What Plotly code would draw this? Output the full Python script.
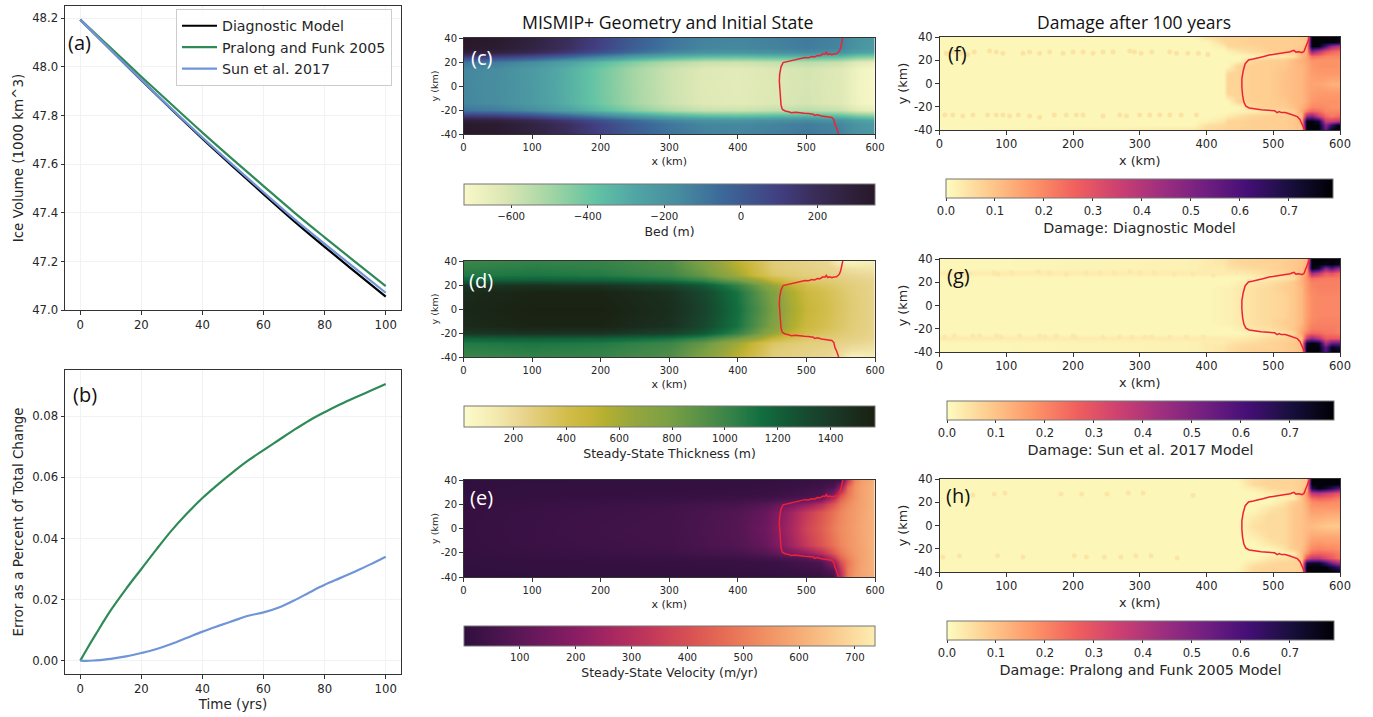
import numpy as np
import plotly.graph_objects as go
from plotly.colors import get_colorscale

W, H = 1373, 717

# ---------- line panels ----------
legend_names = ["Diagnostic Model", "Pralong and Funk 2005", "Sun et al. 2017"]
t_vol = [0, 10, 20, 30, 40, 50, 60, 70, 80, 90, 100]
vol_diag = [48.195, 48.07, 47.946, 47.824, 47.705, 47.59, 47.477, 47.366, 47.26, 47.157, 47.055]
vol_sun = [48.195, 48.0703, 47.947, 47.8265, 47.7095, 47.596, 47.4845, 47.375, 47.272, 47.171, 47.071]
vol_pf = [48.195, 48.078, 47.960, 47.8445, 47.730, 47.619, 47.510, 47.402, 47.299, 47.198, 47.098]

t_err = [0, 2, 5, 10, 15, 20, 25, 30, 35, 40, 45, 50, 55, 60, 65, 70, 75, 80, 85, 90, 95, 100]
err_pf = [0, .0035, .0085, .0165, .0235, .0300, .0365, .0427, .0482, .0532, .0576, .0617, .0655, .0689,
          .0722, .0755, .0786, .0813, .0838, .0861, .0883, .0905]
err_sun = [0, -.0001, .0001, .0006, .0014, .0025, .0038, .0055, .0075, .0095, .0113, .013, .0147, .0158,
           .0174, .0197, .0223, .0248, .027, .0292, .0315, .034]

# ---------- bed ----------
bed_x = [0, 50, 100, 150, 200, 250, 300, 350, 400, 450, 500, 550, 575, 600]
bed_y = [-40, -32, -28, -24, -20, -14, 0, 14, 20, 24, 28, 32, 40]
bed_rows = [
    [350, 330, 273, 189, 90, -7, -85, -132, -143, -125, -104, -134, -193, -220],
    [340, 320, 263, 179, 80, -17, -95, -142, -153, -135, -114, -144, -203, -230],
    [290, 270, 213, 129, 30, -67, -145, -192, -203, -185, -164, -194, -253, -280],
    [100, 80, 23, -61, -160, -257, -335, -382, -393, -375, -354, -384, -443, -470],
    [-90, -110, -167, -251, -350, -447, -525, -572, -583, -565, -544, -574, -633, -660],
    [-146, -166, -223, -307, -406, -503, -581, -628, -639, -621, -600, -630, -689, -716],
    [-150, -170, -227, -311, -410, -507, -585, -632, -643, -625, -604, -634, -693, -720],
    [-146, -166, -223, -307, -406, -503, -581, -628, -639, -621, -600, -630, -689, -716],
    [-90, -110, -167, -251, -350, -447, -525, -572, -583, -565, -544, -574, -633, -660],
    [100, 80, 23, -61, -160, -257, -335, -382, -393, -375, -354, -384, -443, -470],
    [290, 270, 213, 129, 30, -67, -145, -192, -203, -185, -164, -194, -253, -280],
    [340, 320, 263, 179, 80, -17, -95, -142, -153, -135, -114, -144, -203, -230],
    [350, 330, 273, 189, 90, -7, -85, -132, -143, -125, -104, -134, -193, -220],
]

# ---------- thickness ----------
thk_x = [0, 100, 200, 300, 350, 400, 430, 450, 470, 500, 530, 550, 565, 600]
thk_y = [-40, -34, -28, -24, -20, -14, 0, 14, 20, 24, 28, 34, 40]
thk_rows = [
    [1000, 1030, 1020, 940, 760, 520, 380, 290, 270, 250, 220, 180, 70, 110],
    [1040, 1060, 1040, 960, 800, 560, 400, 300, 280, 260, 240, 210, 170, 160],
    [1080, 1100, 1080, 1000, 860, 620, 430, 340, 310, 280, 270, 250, 230, 200],
    [1200, 1220, 1200, 1120, 1020, 820, 640, 480, 400, 320, 300, 280, 260, 230],
    [1420, 1450, 1440, 1350, 1230, 1020, 820, 660, 540, 390, 340, 300, 280, 240],
    [1500, 1540, 1540, 1460, 1320, 1110, 900, 760, 620, 450, 380, 330, 290, 240],
    [1520, 1560, 1560, 1480, 1350, 1130, 940, 800, 650, 480, 400, 340, 300, 240],
    [1500, 1540, 1540, 1460, 1320, 1110, 900, 760, 620, 450, 380, 330, 290, 240],
    [1420, 1450, 1440, 1350, 1230, 1020, 820, 660, 540, 390, 340, 300, 280, 240],
    [1200, 1220, 1200, 1120, 1020, 820, 640, 480, 400, 320, 300, 280, 260, 230],
    [1080, 1100, 1080, 1000, 860, 620, 430, 340, 310, 280, 270, 250, 230, 200],
    [1040, 1060, 1040, 960, 800, 560, 400, 300, 280, 260, 240, 200, 170, 160],
    [1000, 1030, 1020, 940, 760, 520, 380, 290, 270, 250, 220, 90, 60, 110],
]

# ---------- velocity ----------
vel_x = [0, 100, 200, 300, 400, 440, 460, 480, 500, 520, 540, 550, 560, 570, 580, 600]
vel_y = [-40, -34, -28, -24, -20, -14, 0, 14, 20, 24, 28, 34, 40]
vel_rows = [
    [3, 5, 6, 7, 8, 10, 12, 15, 18, 22, 40, 300, 500, 560, 580, 610],
    [4, 7, 8, 10, 12, 15, 20, 25, 30, 40, 90, 330, 500, 550, 585, 620],
    [6, 10, 12, 15, 20, 25, 30, 40, 50, 70, 200, 400, 490, 545, 580, 620],
    [8, 13, 17, 22, 32, 45, 55, 70, 90, 150, 320, 450, 510, 550, 580, 620],
    [10, 20, 28, 35, 55, 85, 120, 170, 220, 300, 420, 490, 530, 560, 580, 620],
    [13, 26, 34, 42, 78, 125, 180, 260, 340, 410, 480, 520, 545, 565, 585, 620],
    [15, 28, 38, 45, 85, 140, 200, 280, 370, 430, 500, 530, 550, 570, 590, 620],
    [13, 26, 34, 42, 78, 125, 180, 260, 340, 410, 480, 520, 545, 565, 585, 620],
    [10, 20, 28, 35, 55, 85, 120, 170, 220, 300, 420, 490, 530, 560, 580, 620],
    [8, 13, 17, 22, 32, 45, 55, 70, 90, 150, 320, 450, 510, 550, 580, 620],
    [6, 10, 12, 15, 20, 25, 30, 40, 50, 70, 200, 400, 490, 545, 580, 620],
    [4, 7, 8, 10, 12, 15, 20, 25, 30, 40, 70, 210, 460, 540, 580, 620],
    [3, 5, 6, 7, 8, 10, 12, 15, 18, 22, 30, 50, 340, 520, 570, 610],
]

# ---------- damage (hundredths) ----------
dmg_x = [0, 380, 400, 425, 432, 447, 470, 495, 515, 530, 542, 550, 558, 568, 578, 588, 596, 600]
dmg_y = [-40, -36, -32, -28, -24, -20, -15, -8, 0, 8, 15, 20, 24, 28, 32, 36, 40]
dmg_diag_rows = [
    [1, 4, 6, 7, 7, 8, 8, 8, 8, 9, 10, 78, 78, 78, 55, 78, 78, 78],
    [1, 1, 5, 6, 7, 7, 8, 8, 8, 9, 10, 78, 78, 78, 48, 65, 78, 78],
    [1, 1, 2, 4, 7, 7, 8, 8, 8, 9, 12, 78, 78, 72, 35, 35, 38, 38],
    [1, 1, 1, 2, 3, 5, 7, 8, 8, 9, 11, 45, 50, 35, 25, 22, 24, 24],
    [1, 1, 1, 1, 1, 2, 3, 4, 6, 8, 14, 22, 26, 24, 20, 20, 20, 20],
    [1, 1, 1, 1, 1, 1, 7, 8, 8, 10, 13, 16, 20, 20, 19, 18, 18, 18],
    [1, 1, 1, 1, 1, 7, 8, 8, 9, 11, 12, 14, 17, 18, 18, 18, 18, 18],
    [1, 1, 1, 1, 7, 7, 8, 8, 10, 11, 12, 14, 16, 17, 17, 17, 17, 17],
    [1, 1, 1, 1, 7, 7, 8, 8, 10, 11, 12, 14, 15, 15, 14, 13, 13, 13],
    [1, 1, 1, 1, 7, 7, 8, 8, 10, 11, 12, 14, 16, 17, 17, 17, 17, 17],
    [1, 1, 1, 1, 1, 7, 8, 8, 9, 11, 12, 14, 17, 18, 18, 18, 18, 18],
    [1, 1, 1, 1, 1, 1, 7, 8, 8, 11, 13, 15, 18, 18, 18, 18, 18, 18],
    [1, 1, 1, 1, 1, 1, 2, 3, 4, 5, 12, 15, 24, 23, 20, 20, 20, 20],
    [1, 1, 1, 1, 2, 4, 6, 8, 8, 9, 10, 14, 50, 40, 30, 26, 24, 24],
    [1, 1, 1, 3, 6, 7, 7, 8, 8, 8, 9, 12, 78, 78, 60, 45, 40, 40],
    [1, 1, 1, 6, 7, 7, 8, 8, 8, 8, 8, 10, 78, 78, 78, 78, 75, 75],
    [1, 1, 5, 7, 7, 7, 8, 8, 8, 8, 9, 10, 78, 78, 78, 78, 78, 78],
]
dmg_sun_rows = [
    [1, 2, 3, 4, 5, 6, 7, 8, 8, 9, 11, 78, 78, 78, 60, 78, 78, 78],
    [1, 2, 3, 4, 5, 6, 7, 7, 8, 9, 11, 78, 78, 78, 55, 76, 72, 72],
    [1, 2, 3, 3, 4, 5, 6, 7, 8, 9, 10, 75, 78, 75, 42, 55, 55, 55],
    [3, 3, 3, 3, 3, 3, 4, 6, 7, 8, 11, 36, 46, 38, 28, 28, 28, 28],
    [1, 1, 1, 1, 1, 1, 2, 3, 4, 7, 15, 22, 26, 25, 23, 23, 22, 22],
    [1, 1, 1, 1, 1, 2, 4, 5, 7, 9, 14, 18, 22, 22, 22, 22, 21, 21],
    [1, 1, 1, 2, 2, 3, 5, 6, 8, 9, 12, 17, 20, 21, 21, 21, 21, 21],
    [1, 1, 1, 2, 2, 3, 5, 6, 7, 9, 12, 16, 19, 20, 20, 20, 20, 20],
    [1, 1, 1, 2, 2, 3, 5, 6, 7, 9, 12, 16, 19, 20, 20, 20, 20, 20],
    [1, 1, 1, 2, 2, 3, 5, 6, 7, 9, 12, 16, 19, 20, 20, 20, 20, 20],
    [1, 1, 1, 2, 2, 3, 5, 6, 8, 9, 12, 17, 20, 21, 21, 21, 21, 21],
    [1, 1, 1, 1, 1, 2, 4, 5, 7, 9, 13, 17, 21, 21, 21, 21, 21, 21],
    [1, 1, 1, 1, 1, 1, 2, 3, 4, 6, 13, 18, 24, 23, 22, 22, 22, 22],
    [3, 3, 3, 3, 3, 3, 4, 6, 7, 8, 10, 17, 44, 38, 28, 30, 26, 26],
    [1, 2, 3, 3, 4, 5, 6, 7, 8, 9, 10, 15, 78, 72, 48, 58, 48, 48],
    [1, 2, 3, 4, 5, 6, 7, 7, 8, 9, 10, 13, 78, 78, 76, 78, 75, 75],
    [1, 2, 3, 4, 5, 7, 7, 8, 8, 9, 10, 12, 78, 78, 78, 78, 78, 78],
]
dmg_pf_rows = [
    [1, 1, 1, 1, 1, 2, 6, 7, 7, 7, 8, 78, 78, 78, 78, 78, 78, 78],
    [1, 1, 1, 1, 1, 1, 6, 7, 7, 7, 8, 78, 78, 78, 78, 72, 65, 65],
    [1, 1, 1, 1, 1, 1, 4, 6, 7, 7, 8, 72, 75, 75, 64, 52, 44, 44],
    [1, 1, 1, 1, 1, 1, 1, 4, 5, 6, 10, 30, 38, 38, 32, 28, 24, 24],
    [1, 1, 1, 1, 1, 1, 1, 1, 2, 3, 11, 18, 25, 26, 25, 24, 22, 22],
    [1, 1, 1, 1, 1, 1, 1, 1, 4, 8, 10, 15, 20, 21, 20, 20, 19, 19],
    [1, 1, 1, 1, 1, 1, 1, 4, 6, 9, 10, 13, 17, 18, 17, 17, 17, 17],
    [1, 1, 1, 1, 1, 1, 3, 6, 6, 9, 10, 12, 14, 14, 14, 14, 14, 14],
    [1, 1, 1, 1, 1, 1, 5, 6, 6, 9, 10, 11, 11, 10, 9, 9, 9, 9],
    [1, 1, 1, 1, 1, 1, 3, 6, 6, 9, 10, 12, 14, 14, 13, 13, 13, 13],
    [1, 1, 1, 1, 1, 1, 1, 4, 6, 9, 10, 13, 17, 17, 17, 17, 17, 17],
    [1, 1, 1, 1, 1, 1, 1, 1, 4, 8, 10, 14, 19, 20, 20, 19, 19, 19],
    [1, 1, 1, 1, 1, 1, 1, 1, 2, 3, 10, 16, 24, 26, 25, 24, 22, 22],
    [1, 1, 1, 1, 1, 1, 1, 3, 4, 5, 9, 18, 38, 40, 36, 33, 30, 30],
    [1, 1, 1, 1, 1, 1, 3, 6, 7, 7, 8, 12, 70, 78, 74, 68, 60, 60],
    [1, 1, 1, 1, 1, 1, 6, 7, 7, 7, 8, 10, 78, 78, 78, 78, 78, 78],
    [1, 1, 1, 1, 1, 2, 6, 7, 7, 7, 8, 10, 78, 78, 78, 78, 78, 78],
]

# speckle along the shear margins
spk_diag_x = [10, 20, 32, 42, 52, 75, 85, 95, 125, 135, 150, 165, 185, 200, 215, 230, 245, 260, 285, 292, 302, 318,
              345, 355, 372, 388, 402, 8, 20, 35, 50, 72, 85, 95, 105, 118, 135, 150, 172, 190, 205, 215, 245, 270,
              280, 300, 315, 330, 345, 362, 385]
spk_diag_y = [26, 27, 26, 25, 27, 28, 27, 26, 26, 27, 26, 27, 26, 27, 27, 26, 27, 27, 28, 27, 26, 27,
              27, 26, 26, 26, 25, -27, -27, -28, -27, -27, -27, -27, -28, -27, -28, -29, -27, -27, -27, -27, -28,
              -27, -28, -27, -27, -27, -27, -27, -27]
spk_sun_x = [45, 82, 88, 108, 148, 165, 190, 220, 240, 262, 285, 300, 322, 352, 380, 410, 8, 22, 50, 60, 85, 92,
             120, 150, 158, 175, 200, 203, 245, 270, 288, 308, 318, 345, 370, 395]
spk_sun_y = [27, 28, 27, 28, 29, 28, 27, 28, 28, 28, 29, 28, 28, 27, 27, 26, -27, -26, -26, -26, -26, -27,
             -26, -26, -27, -26, -26, -27, -27, -27, -27, -27, -27, -27, -27, -27]
spk_pf_x = [50, 82, 98, 182, 213, 251, 283, 305, 380, 5, 30, 87, 125, 202, 220, 247, 272, 294, 317, 356]
spk_pf_y = [26, 27, 28, 27, 27, 27, 28, 28, 26, -27, -26, -26, -27, -26, -27, -27, -27, -26, -26, -28]

# ---------- grounding lines ----------
gl_init_x = [553, 552, 550, 548, 546, 544, 540, 537, 534, 531, 529, 527, 524, 520, 516, 512, 508, 503, 498, 492, 486,
             480, 474, 470, 466, 463, 461, 460.5, 461, 461.5, 463, 465, 469, 474, 478, 484, 490, 497, 503, 510, 512,
             516, 522, 528, 533, 537, 540, 541.5, 544, 545, 547]
gl_init_y = [40, 36, 32, 29, 27.5, 26.8, 26.6, 26, 26.8, 26.2, 28, 26.5, 26.8, 25.3, 25.5, 24.2, 24.5, 23.6, 23.8, 23,
             22.8, 21.8, 21, 20.5, 19.5, 16, 10, 4, -3, -10, -16, -19.5, -20.8, -21.5, -22.2, -21.9, -22.5, -22.8, -23,
             -23.5, -24.6, -24, -25, -25.4, -26, -26.2, -28, -32, -35, -37.5, -40]
gl_end_x = [554.5, 552, 549, 546, 543, 538, 534, 531, 528, 524, 518, 510, 502, 494, 486, 478, 470, 463, 458, 455, 453,
            453, 454, 456, 459, 464, 472, 482, 492, 502, 506, 509, 512, 518, 526, 532, 536, 540, 543, 546, 547]
gl_end_y = [40, 36, 31, 27.5, 26.6, 27.3, 27, 28.5, 28, 27, 26.6, 26, 25.5, 24.5, 23.3, 22, 21, 20.3, 17, 11, 4,
            -3, -10, -16, -19.5, -21, -21.8, -22.5, -23, -23.5, -25, -24.2, -25, -25, -26.5, -27.5, -28.5, -31, -35,
            -39, -40]

x_ticks = [0, 100, 200, 300, 400, 500, 600]
y_ticks = [-40, -20, 0, 20, 40]
y_tick_text = ["-40", "-20", "0", "20", "40"]
dmg_ticks = [0.0, 0.1, 0.2, 0.3, 0.4, 0.5, 0.6, 0.7]

# ---------- styling ----------
FONT = "DejaVu Sans"
LAB = "Open Sans"
INK = "#262626"
FRAME = "#333333"
GREEN = "#2e8b57"
BLUE = "#6f95d8"
RED = "#ee2233"
BED_SCALE = [[0, "#f9f8c8"], [.1, "#dbe7b4"], [.2, "#a9d7a6"], [.27, "#80cba2"], [.32, "#62c3a4"], [.42, "#50a4a5"],
             [.52, "#478d9f"], [.62, "#3c6b9a"], [.72, "#3f4d8a"], [.76, "#424084"], [.85, "#3a2d5a"], [1, "#281828"]]
THK_SCALE = [[0, "#fdfbcb"], [.08, "#f3e9ae"], [.14, "#e9d590"], [.25, "#d2bd4b"], [.3, "#c8b63a"], [.34, "#b5b02f"],
             [.42, "#93a53f"], [.5, "#7aa044"], [.58, "#569047"], [.66, "#308048"], [.72, "#126f3f"], [.8, "#145433"],
             [.88, "#1a3d2a"], [1, "#1a2012"]]

fig = go.Figure()
layout = dict(
    width=W, height=H, margin=dict(l=0, r=0, t=0, b=0, autoexpand=False), autosize=False,
    paper_bgcolor="white", plot_bgcolor="white", font=dict(family=FONT, color=INK),
)


def dom_x(l, r):
    return [l / W, r / W]


def dom_y(t, b):
    return [1 - b / H, 1 - t / H]


def axis_pair(n, box, tick_size, x_title, y_title, title_size, xrange, yrange, xtick, ytick, yticktext=None,
              xstand=3, ystand=4, grid=False):
    l, r, t, b = box
    sfx = "" if n == 1 else str(n)
    common = dict(showline=True, mirror=True, linecolor=FRAME, linewidth=1, ticks="outside", ticklen=3.5,
                  tickcolor=FRAME, tickwidth=1, zeroline=False, showgrid=grid, gridcolor="#f2f2f2", gridwidth=1,
                  tickfont=dict(size=tick_size, family=FONT, color=INK))
    xa = dict(common, domain=dom_x(l, r), anchor="y" + sfx, range=xrange, tickmode="array", tickvals=xtick,
              ticktext=[str(v) for v in xtick])
    if x_title:
        xa["title"] = dict(text=x_title, font=dict(size=title_size, family=FONT, color=INK), standoff=xstand)
    ya = dict(common, domain=dom_y(t, b), anchor="x" + sfx, range=yrange, tickmode="array", tickvals=ytick,
              ticktext=yticktext)
    if y_title:
        ya["title"] = dict(text=y_title, font=dict(size=title_size, family=FONT, color=INK), standoff=ystand)
    layout["xaxis" + sfx] = xa
    layout["yaxis" + sfx] = ya
    return "x" + sfx, "y" + sfx


# panel (a)
xa, ya = axis_pair(1, (65, 401, 6, 310), 11.7, None, "Ice Volume (1000 km^3)", 13.5, [-5, 105], [47.0, 48.251],
                   [0, 20, 40, 60, 80, 100], [47.0, 47.2, 47.4, 47.6, 47.8, 48.0, 48.2],
                   ["47.0", "47.2", "47.4", "47.6", "47.8", "48.0", "48.2"], ystand=5, grid=True)
for name, vals, col in zip(legend_names, [vol_diag, vol_pf, vol_sun], ["black", GREEN, BLUE]):
    fig.add_trace(go.Scatter(x=t_vol, y=vals, mode="lines", name=name, legendgroup=name, xaxis=xa, yaxis=ya,
                             line=dict(color=col, width=2.2, shape="spline")))

# panel (b)
xa, ya = axis_pair(2, (65, 401, 370, 674), 11.7, "Time (yrs)", "Error as a Percent of Total Change", 13.5,
                   [-5, 105], [-0.00437, 0.0951], [0, 20, 40, 60, 80, 100], [0, .02, .04, .06, .08],
                   ["0.00", "0.02", "0.04", "0.06", "0.08"], ystand=5, xstand=4, grid=True)
fig.add_trace(go.Scatter(x=t_err, y=err_pf, mode="lines", showlegend=False, xaxis=xa, yaxis=ya,
                         line=dict(color=GREEN, width=2.2, shape="spline")))
fig.add_trace(go.Scatter(x=t_err, y=err_sun, mode="lines", showlegend=False, xaxis=xa, yaxis=ya,
                         line=dict(color=BLUE, width=2.2, shape="spline")))

MID_L, MID_R = 463.5, 875
DMG_L, DMG_R = 939.5, 1340


def field(n, box, xs, ys, rows, scale, zmin, zmax, cb_box, cb_ticks, cb_title, gl_x, gl_y, small, spk=None):
    tick = 10 if small else 11.5
    xa, ya = axis_pair(n, box, tick, "x (km)", "y (km)", 9.5 if small else 12.8, [0, 600], [-40, 40], x_ticks,
                       y_ticks, y_tick_text, xstand=5, ystand=0 if small else 3)
    if small:
        layout["xaxis" + str(n)]["title"]["font"]["size"] = 11
    cl, cr, ct, cb = cb_box
    fig.add_trace(go.Heatmap(
        x=xs, y=ys, z=rows, zmin=zmin, zmax=zmax, zsmooth="best", colorscale=scale, xaxis=xa, yaxis=ya,
        colorbar=dict(orientation="h", x=cl / W, xanchor="left", y=1 - ct / H,
                      yanchor="top", lenmode="fraction", len=(cr - cl) / W, thicknessmode="fraction",
                      thickness=(cb - ct) / H, xpad=0, ypad=0, outlinecolor="#777777",
                      outlinewidth=1, ticks="outside", ticklen=3, tickcolor=FRAME, tickmode="array", tickvals=cb_ticks,
                      ticktext=None if n < 6 else [f"{v:.1f}" for v in cb_ticks],
                      tickfont=dict(size=10.2 if small else 11.6, family=FONT, color=INK),
                      title=dict(text=cb_title, side="bottom", font=dict(size=12.5 if small else 14.3, family=FONT,
                                                                         color=INK)))))
    if spk is not None:
        fig.add_trace(go.Scatter(x=spk[0], y=spk[1], mode="markers", showlegend=False, xaxis=xa, yaxis=ya,
                                 marker=dict(color=spk[2], size=5, opacity=0.85, line=dict(width=0))))
    fig.add_trace(go.Scatter(x=gl_x, y=gl_y, mode="lines", showlegend=False, xaxis=xa, yaxis=ya,
                             line=dict(color=RED, width=1.5)))


field(3, (MID_L, MID_R, 38, 134), bed_x, bed_y, bed_rows, BED_SCALE, -723, 350,
      (464, 875, 184, 205), [-600, -400, -200, 0, 200], "Bed (m)", gl_init_x, gl_init_y, True)
field(4, (MID_L, MID_R, 261, 357), thk_x, thk_y, thk_rows, THK_SCALE, 13, 1568,
      (464, 875, 406, 427), [200, 400, 600, 800, 1000, 1200, 1400], "Steady-State Thickness (m)",
      gl_init_x, gl_init_y, True)
field(5, (MID_L, MID_R, 480, 577), vel_x, vel_y, vel_rows, get_colorscale("matter_r"), 0, 736,
      (464, 875, 626, 646), [100, 200, 300, 400, 500, 600, 700], "Steady-State Velocity (m/yr)",
      gl_init_x, gl_init_y, True)

magma = get_colorscale("magma_r")
field(6, (DMG_L, DMG_R, 37, 130), dmg_x, dmg_y, (np.array(dmg_diag_rows) / 100).tolist(), magma, 0, 0.79,
      (946, 1333, 179, 198), dmg_ticks, "Damage: Diagnostic Model", gl_end_x, gl_end_y, False,
      (spk_diag_x, spk_diag_y, "#fbdf9c"))
field(7, (DMG_L, DMG_R, 259, 352), dmg_x, dmg_y, (np.array(dmg_sun_rows) / 100).tolist(), magma, 0, 0.79,
      (947, 1334, 401, 420), dmg_ticks, "Damage: Sun et al. 2017 Model", gl_end_x, gl_end_y, False,
      (spk_sun_x, spk_sun_y, "#fbe7a8"))
field(8, (DMG_L, DMG_R, 479, 572), dmg_x, dmg_y, (np.array(dmg_pf_rows) / 100).tolist(), magma, 0, 0.79,
      (947, 1334, 621, 640), dmg_ticks, "Damage: Pralong and Funk 2005 Model", gl_end_x, gl_end_y, False,
      (spk_pf_x, spk_pf_y, "#fbe3a2"))


def note(text, px, py, size=20, color="#111111", family=LAB):
    return dict(text=text, x=px / W, y=1 - py / H, xref="paper", yref="paper", showarrow=False, xanchor="center",
                yanchor="middle", font=dict(size=size, family=family, color=color))


layout["annotations"] = [
    note("(a)", 79.5, 43), note("(b)", 85, 394),
    note("(c)", 481, 57, color="white"), note("(d)", 481, 280, color="white"), note("(e)", 481, 497, color="white"),
    note("(f)", 957, 53), note("(g)", 958, 275), note("(h)", 958, 495),
    note("MISMIP+ Geometry and Initial State", 668, 22, size=17.7),
    note("Damage after 100 years", 1134, 22, size=17.5),
]
layout["legend"] = dict(x=176 / W, y=1 - 9 / H, xanchor="left", yanchor="top", bgcolor="rgba(255,255,255,0.85)",
                        bordercolor="#cccccc", borderwidth=1, font=dict(size=14.2, family=FONT, color=INK),
                        tracegroupgap=0, traceorder="grouped", itemwidth=35)
fig.update_layout(**layout)
fig.write_html("out.html", post_script="document.body.style.margin='0';", config={"displayModeBar": False})
